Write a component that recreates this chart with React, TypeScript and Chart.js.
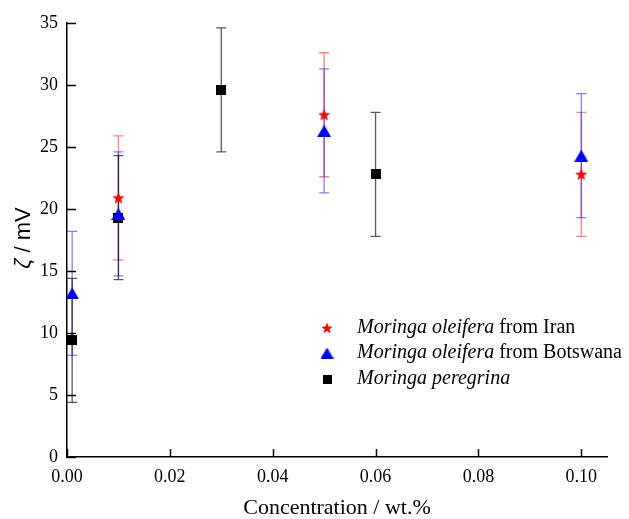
import React, { useEffect, useRef } from "react";
import { Chart, registerables } from "chart.js";

Chart.register(...registerables);

// ---- data ----
const iranX = [0.01, 0.05, 0.1];
const iranY = [20.9, 27.6, 22.8];
const iranErr = [5, 5, 5];

const botswanaX = [0.001, 0.01, 0.05, 0.1];
const botswanaY = [13.2, 19.6, 26.3, 24.3];
const botswanaErr = [5, 5, 5, 5];

const peregrinaX = [0.001, 0.01, 0.03, 0.06];
const peregrinaY = [9.4, 19.3, 29.6, 22.8];
const peregrinaErr = [5, 5, 5, 5];

const legendItalic = ["Moringa oleifera", "Moringa oleifera", "Moringa peregrina"];
const legendPlain = [" from Iran", " from Botswana", ""];

const xTitle = "Concentration / wt.%";
const yTitleSymbol = "ζ";
const yTitleRest = " / mV";

const X_MIN = 0;
const X_MAX = 0.105;
const X_STEP = 0.02;
const Y_MIN = 0;
const Y_MAX = 35;
const Y_STEP = 5;

function makeStar(size: number, color: string) {
  const c = document.createElement("canvas");
  c.width = size;
  c.height = size;
  const ctx = c.getContext("2d")!;
  const cx = size / 2, cy = size / 2 + 0.5;
  const ro = size / 2, ri = ro * 0.42;
  ctx.beginPath();
  for (let i = 0; i < 10; i++) {
    const r = i % 2 === 0 ? ro : ri;
    const a = -Math.PI / 2 + (i * Math.PI) / 5;
    const px = cx + r * Math.cos(a), py = cy + r * Math.sin(a);
    if (i === 0) ctx.moveTo(px, py); else ctx.lineTo(px, py);
  }
  ctx.closePath();
  ctx.fillStyle = color;
  ctx.fill();
  return c;
}

function makeTriangle(w: number, h: number, color: string) {
  const c = document.createElement("canvas");
  c.width = w;
  c.height = h;
  const ctx = c.getContext("2d")!;
  ctx.beginPath();
  ctx.moveTo(w / 2, 0);
  ctx.lineTo(w, h);
  ctx.lineTo(0, h);
  ctx.closePath();
  ctx.fillStyle = color;
  ctx.fill();
  return c;
}

function makeSquare(s: number, color: string) {
  const c = document.createElement("canvas");
  c.width = s;
  c.height = s;
  const ctx = c.getContext("2d")!;
  ctx.fillStyle = color;
  ctx.fillRect(0, 0, s, s);
  return c;
}

export default function App() {
  const ref = useRef<HTMLCanvasElement>(null);

  useEffect(() => {
    if (!ref.current) return;
    const star = makeStar(13, "#ff0000");
    const tri = makeTriangle(14, 12, "#0000ff");
    const sq = makeSquare(10, "#000000");
    const starL = makeStar(12, "#ff0000");
    const triL = makeTriangle(13, 11, "#0000ff");
    const sqL = makeSquare(9, "#000000");
    const legendIcons = [starL, triL, sqL];

    const errs = [iranErr, botswanaErr, peregrinaErr];
    const errColors = ["rgba(255,0,0,0.5)", "rgba(0,0,255,0.5)", "rgba(0,0,0,0.65)"];

    const errorBars = {
      id: "errorBars",
      beforeDatasetsDraw(chart: any) {
        const ctx = chart.ctx;
        const xs = chart.scales.x, ys = chart.scales.y;
        chart.data.datasets.forEach((ds: any, di: number) => {
          ctx.save();
          ctx.strokeStyle = errColors[di];
          ctx.lineWidth = 1.3;
          ds.data.forEach((p: any, i: number) => {
            const e = errs[di][i];
            const x = xs.getPixelForValue(p.x);
            const yt = ys.getPixelForValue(p.y + e);
            const yb = ys.getPixelForValue(p.y - e);
            ctx.beginPath();
            ctx.moveTo(x, yt);
            ctx.lineTo(x, yb);
            ctx.moveTo(x - 5, yt);
            ctx.lineTo(x + 5, yt);
            ctx.moveTo(x - 5, yb);
            ctx.lineTo(x + 5, yb);
            ctx.stroke();
          });
          ctx.restore();
        });
      },
    };

    const decorations = {
      id: "decorations",
      afterDraw(chart: any) {
        const ctx = chart.ctx;
        const xs = chart.scales.x, ys = chart.scales.y;
        const area = chart.chartArea;
        ctx.save();
        // inward ticks
        ctx.strokeStyle = "#000";
        ctx.lineWidth = 1.5;
        ys.ticks.forEach((t: any) => {
          const y = Math.round(ys.getPixelForValue(t.value)) + 0.5;
          ctx.beginPath();
          ctx.moveTo(area.left, y);
          ctx.lineTo(area.left + 9, y);
          ctx.stroke();
        });
        xs.ticks.forEach((t: any) => {
          const x = Math.round(xs.getPixelForValue(t.value)) + 0.5;
          ctx.beginPath();
          ctx.moveTo(x, area.bottom);
          ctx.lineTo(x, area.bottom - 8);
          ctx.stroke();
        });
        // x title
        ctx.fillStyle = "#000";
        ctx.font = "22px 'Liberation Serif'";
        ctx.textAlign = "center";
        ctx.textBaseline = "middle";
        ctx.fillText(xTitle, (area.left + area.right) / 2, 508);
        // y title
        ctx.save();
        ctx.translate(24, 238);
        ctx.rotate(-Math.PI / 2);
        ctx.textBaseline = "middle";
        ctx.textAlign = "left";
        ctx.font = "italic 22px 'Liberation Sans'";
        const w1 = ctx.measureText(yTitleSymbol).width;
        ctx.font = "22px 'Liberation Sans'";
        const w2 = ctx.measureText(yTitleRest).width;
        const start = -(w1 + w2) / 2;
        ctx.font = "italic 22px 'Liberation Sans'";
        ctx.fillText(yTitleSymbol, start, 0);
        ctx.font = "22px 'Liberation Sans'";
        ctx.fillText(yTitleRest, start + w1, 0);
        ctx.restore();
        // legend
        const rows = [328, 353, 379];
        ctx.textAlign = "left";
        ctx.textBaseline = "middle";
        rows.forEach((y, i) => {
          const ic = legendIcons[i];
          ctx.drawImage(ic, 327 - ic.width / 2, y - ic.height / 2);
          ctx.font = "italic 20px 'Liberation Serif'";
          ctx.fillText(legendItalic[i], 357, y);
          const wi = ctx.measureText(legendItalic[i]).width;
          ctx.font = "20px 'Liberation Serif'";
          ctx.fillText(legendPlain[i], 357 + wi, y);
        });
        ctx.restore();
      },
    };

    const toPts = (xs: number[], ys: number[]) => xs.map((x, i) => ({ x, y: ys[i] }));

    const chart = new Chart(ref.current, {
      type: "scatter",
      data: {
        datasets: [
          { label: legendItalic[0] + legendPlain[0], data: toPts(iranX, iranY), pointStyle: star as any, pointRadius: 6 },
          { label: legendItalic[1] + legendPlain[1], data: toPts(botswanaX, botswanaY), pointStyle: tri as any, pointRadius: 6 },
          { label: legendItalic[2] + legendPlain[2], data: toPts(peregrinaX, peregrinaY), pointStyle: sq as any, pointRadius: 6 },
        ],
      },
      options: {
        responsive: false,
        animation: false,
        layout: { padding: { left: 0, top: 23, right: 22, bottom: 0 } },
        plugins: { legend: { display: false }, tooltip: { enabled: false } },
        scales: {
          x: {
            type: "linear",
            min: X_MIN,
            max: X_MAX,
            grid: { display: false, drawTicks: false },
            border: { display: true, color: "#000", width: 1.5 },
            ticks: {
              stepSize: X_STEP,
              includeBounds: false,
              color: "#000",
              padding: 9,
              font: { family: "'Liberation Serif'", size: 18 },
              callback: (v: any) => Number(v).toFixed(2),
            },
            afterFit: (s: any) => { s.height = 62; },
          },
          y: {
            type: "linear",
            min: Y_MIN,
            max: Y_MAX,
            grid: { display: false, drawTicks: false },
            border: { display: true, color: "#000", width: 1.5 },
            ticks: {
              stepSize: Y_STEP,
              color: "#000",
              padding: 9,
              font: { family: "'Liberation Serif'", size: 18 },
            },
            afterFit: (s: any) => { s.width = 67; },
          },
        },
      },
      plugins: [errorBars, decorations],
    });
    return () => chart.destroy();
  }, []);

  return (
    <div style={{ position: "absolute", left: 0, top: 0, width: 629, height: 519, background: "#fff" }}>
      <canvas ref={ref} width={629} height={519} />
    </div>
  );
}
